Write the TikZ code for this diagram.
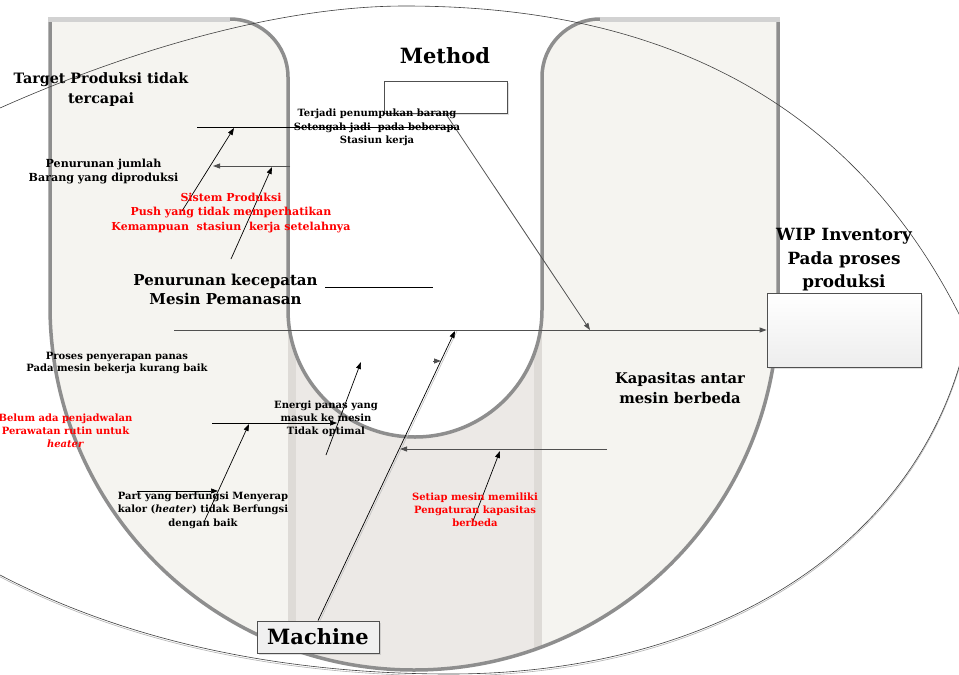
\documentclass[tikz,border=0pt]{standalone}
\usepackage{fontspec}
\setmainfont{DejaVu Serif}
\usetikzlibrary{arrows.meta,shadows}
\definecolor{ufill}{HTML}{F5F4F0}
\definecolor{umid}{HTML}{ECE9E6}
\definecolor{ustrip}{HTML}{DEDBD7}
\definecolor{uborder}{HTML}{8E8E8E}
\definecolor{utop}{HTML}{D2D2D2}
\definecolor{lineg}{HTML}{505050}
\definecolor{redt}{HTML}{FF0000}
\begin{document}
\begin{tikzpicture}[x=1pt,y=-1pt,
  arr/.style={-{Triangle[length=7pt,width=5pt]}, line width=0.7pt, black},
  garr/.style={-{Triangle[length=7pt,width=5pt]}, line width=0.9pt, lineg},
  plainline/.style={line width=0.7pt, black},
  lensline/.style={line width=0.6pt, black!75},
  boxst/.style={draw=lineg, line width=0.8pt, inner sep=0pt, drop shadow={opacity=0.25, shadow xshift=1.5pt, shadow yshift=-1.5pt}},
  lbl/.style={align=center, inner sep=0pt},
  smalltxt/.style={lbl, font=\bfseries\fontsize{10}{13.5}\selectfont},
  redtxt/.style={lbl, text=redt, font=\bfseries\fontsize{10}{14.3}\selectfont},
  bigtxt/.style={lbl, font=\bfseries\fontsize{15}{19.5}\selectfont}]
\useasboundingbox (0,0) rectangle (959,675);
\clip (0,0) rectangle (959,675);
\fill[white] (0,0) rectangle (959,675);
\def\Ushape{(50,19) -- (50,306) arc[start angle=180,end angle=360,radius=364pt] -- (778,19) -- (600,19) arc[start angle=90,end angle=180,radius=58pt] -- (542,310) arc[start angle=0,end angle=-180,radius=127pt] -- (288,77) arc[start angle=0,end angle=90,radius=58pt] -- cycle}
\fill[ufill] \Ushape;
\begin{scope}
  \clip \Ushape;
  \fill[umid] (288,250) rectangle (542,680);
  \fill[ustrip] (288,250) rectangle (296,680);
  \fill[ustrip] (534,250) rectangle (542,680);
\end{scope}
\draw[uborder, line width=3.5pt] \Ushape;
\draw[utop, line width=5pt] (48,19) -- (230,19);
\draw[utop, line width=5pt] (600,19) -- (780,19);
% lens arcs
\draw[lensline] (-20,117) .. controls (-13,114) and (-7,111) .. (0,108) .. controls (130,50) and (280,6) .. (405,6) .. controls (600,6) and (830,60) .. (959,314) .. controls (965,326) and (970,338) .. (975,350);
\draw[black!30, line width=0.6pt, yshift=-1.8pt] (-20,565) -- (0,575) .. controls (140,648) and (300,674) .. (450,674) .. controls (700,674) and (900,560) .. (959,367) -- (968,330);
\draw[lensline] (-20,565) -- (0,575) .. controls (140,648) and (300,674) .. (450,674) .. controls (700,674) and (900,560) .. (959,367) -- (968,330);
% boxes
\node[boxst, fill=white, minimum width=123pt, minimum height=32pt] (mbox) at (445.5,97) {};
\node[boxst, top color=white, bottom color=black!7, minimum width=154pt, minimum height=74pt] (wip) at (844,330) {};
\node[boxst, fill=black!6, minimum width=122pt, minimum height=32pt, font=\bfseries\fontsize{21}{24}\selectfont] (mach) at (318,637) {Machine};
% coordinates
\coordinate (s0) at (174,330);
\coordinate (sM) at (590,330);
\coordinate (sC) at (455,331);
\coordinate (b1a) at (197,127);
\coordinate (b1b) at (455,127);
\coordinate (a1s) at (182,211); \coordinate (a1e) at (234,128);
\coordinate (a2s) at (290,166); \coordinate (a2e) at (213,166);
\coordinate (a3s) at (231,259); \coordinate (a3e) at (272,167);
\coordinate (l2s) at (325,287); \coordinate (l2e) at (433,287);
\coordinate (a4s) at (212,423); \coordinate (a4e) at (337,423);
\coordinate (a5s) at (204,522); \coordinate (a5e) at (249,424);
\coordinate (a6s) at (326,455); \coordinate (a6e) at (361,362);
\coordinate (a7s) at (137,491); \coordinate (a7e) at (218,491);
\coordinate (a8s) at (607,449); \coordinate (a8e) at (400,449);
\coordinate (a9s) at (473,521); \coordinate (a9e) at (500,451);
\coordinate (t1) at (433,361); \coordinate (t2) at (441,361);
% connectors
\draw[garr] (s0) -- (wip.west);
\draw[garr, line width=0.8pt] (mbox.south) -- (sM);
\draw[black!25, line width=0.6pt] ([xshift=2pt]mach.north) -- ([xshift=2pt]sC);
\draw[arr] (mach.north) -- (sC);
\draw[garr] (t1) -- (t2);
\draw[plainline] (b1a) -- (b1b);
\draw[arr] (a1s) -- (a1e);
\draw[garr] (a2s) -- (a2e);
\draw[arr] (a3s) -- (a3e);
\draw[plainline, line width=1pt] (l2s) -- (l2e);
\draw[arr] (a4s) -- (a4e);
\draw[arr] (a5s) -- (a5e);
\draw[arr] (a6s) -- (a6e);
\draw[arr] (a7s) -- (a7e);
\draw[garr] (a8s) -- (a8e);
\draw[arr] (a9s) -- (a9e);
% texts
\node[lbl, font=\bfseries\fontsize{21}{26}\selectfont] (tmethod) at (445,56) {Method};
\node[lbl, font=\bfseries\fontsize{14.3}{20}\selectfont] (ttarget) at (101,90) {Target Produksi tidak\\tercapai};
\node[smalltxt] (tterjadi) at (377,127.5) {Terjadi penumpukan barang\\Setengah jadi\ \ pada beberapa\\Stasiun kerja};
\node[smalltxt, font=\bfseries\fontsize{11.1}{14}\selectfont] (tjumlah) at (103.5,171.5) {Penurunan jumlah\\Barang yang diproduksi};
\node[redtxt, font=\bfseries\fontsize{11}{14.5}\selectfont] (tsistem) at (231,213) {Sistem Produksi\\Push yang tidak memperhatikan\\Kemampuan\ \ stasiun\ \ kerja setelahnya};
\node[bigtxt, font=\bfseries\fontsize{15}{19.5}\selectfont] (tkecep) at (225.5,289.5) {Penurunan kecepatan\\Mesin Pemanasan};
\node[lbl, font=\bfseries\fontsize{16.8}{23.5}\selectfont] (twip) at (844,260) {WIP Inventory\\Pada proses\\produksi};
\node[smalltxt, font=\bfseries\fontsize{10}{12.5}\selectfont] (tproses) at (117,363) {Proses penyerapan panas\\Pada mesin bekerja kurang baik};
\node[redtxt, font=\bfseries\fontsize{10}{13}\selectfont] (tbelum) at (65.5,431) {Belum ada penjadwalan\\Perawatan rutin untuk\\\textit{heater}};
\node[smalltxt, font=\bfseries\fontsize{10}{13}\selectfont] (tenergi) at (326,419) {Energi panas yang\\masuk ke mesin\\Tidak optimal};
\node[smalltxt, font=\bfseries\fontsize{10}{13.5}\selectfont] (tpart) at (203,510) {Part yang berfungsi Menyerap\\kalor (\textit{heater}) tidak Berfungsi\\dengan baik};
\node[redtxt, font=\bfseries\fontsize{10}{13}\selectfont] (tsetiap) at (475,510) {Setiap mesin memiliki\\Pengaturan kapasitas\\berbeda};
\node[lbl, font=\bfseries\fontsize{14.7}{20}\selectfont] (tkapas) at (680,388.5) {Kapasitas antar\\mesin berbeda};
\end{tikzpicture}
\end{document}
